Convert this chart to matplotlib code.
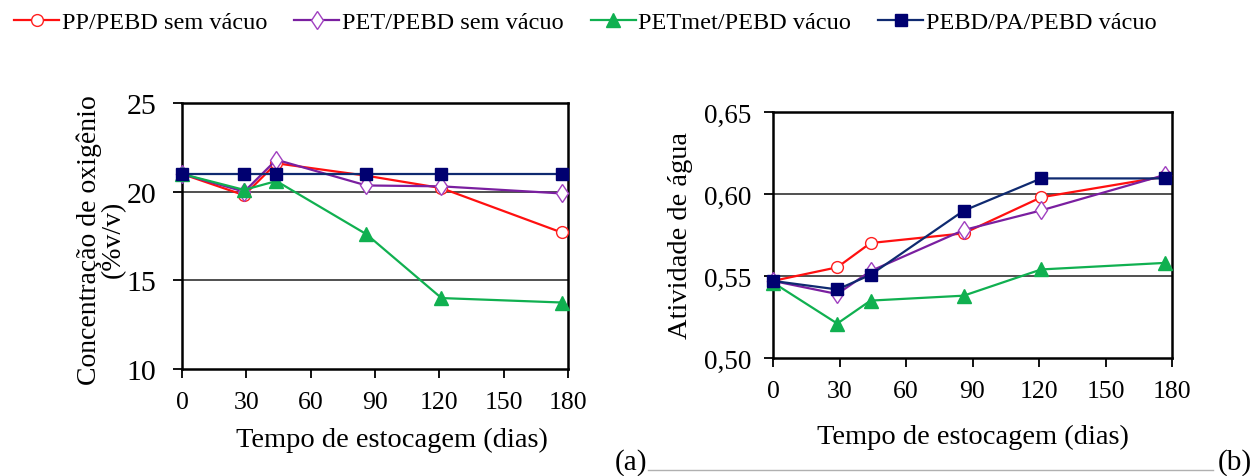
import matplotlib
matplotlib.use("Agg")
import matplotlib.pyplot as plt
from matplotlib.lines import Line2D

plt.rcParams["font.family"] = ["Liberation Serif", "DejaVu Serif"]

# storage time (days)
dias = [0, 29, 44, 86, 121, 177]

series = ["PP/PEBD sem vácuo", "PET/PEBD sem vácuo",
          "PETmet/PEBD vácuo", "PEBD/PA/PEBD vácuo"]

# (a) oxygen concentration (% v/v)
o2_pp = [21.0, 19.8, 21.6, 20.9, 20.2, 17.7]
o2_pet = [21.0, 20.0, 21.8, 20.35, 20.3, 19.9]
o2_petmet = [21.0, 20.1, 20.6, 17.6, 14.0, 13.75]
o2_pa = [21.0, 21.0, 21.0, 21.0, 21.0, 21.0]

# (b) water activity
aw_pp = [0.547, 0.5553, 0.5701, 0.576, 0.598, 0.6107]
aw_pet = [0.547, 0.539, 0.553, 0.578, 0.590, 0.6117]
aw_petmet = [0.546, 0.521, 0.535, 0.538, 0.554, 0.558]
aw_pa = [0.547, 0.5418, 0.5507, 0.5898, 0.6095, 0.6095]

xticks = [0, 30, 60, 90, 120, 150, 180]

styles = [
    dict(color="#ff1010", marker="o", mfc="white", mec="#ff2020", ms=8.5, mew=1.0),
    dict(color="#7a1fa0", marker="d", mfc="white", mec="#a040c0", ms=9.5, mew=1.0),
    dict(color="#10b050", marker="^", mfc="#10b050", mec="#10b050", ms=9.5),
    dict(color="#0f2a70", marker="s", mfc="#000070", mec="#000070", ms=9),
]

W, H = 1258, 477
fig = plt.figure(figsize=(W / 100, H / 100), dpi=100)
ax1 = fig.add_axes([182 / W, 1 - 370 / H, 386 / W, 266 / H])
ax2 = fig.add_axes([773 / W, 1 - 359 / H, 399 / W, 246 / H])


def style_axes(ax, yticks, ylabels, yfs, ypad):
    ax.set_xlim(0, 180)
    ax.set_xticks(xticks)
    ax.set_xticklabels([str(t) for t in xticks], fontsize=18.5)
    ax.set_ylim(yticks[0], yticks[-1])
    ax.set_yticks(yticks)
    ax.set_yticklabels(ylabels, fontsize=yfs)
    for s in ax.spines.values():
        s.set_linewidth(1.8)
        s.set_color("black")
    ax.tick_params(direction="out", length=6.5, width=1.3)
    ax.tick_params(axis="x", pad=9)
    ax.tick_params(axis="y", pad=ypad)
    for y in yticks[1:-1]:
        ax.axhline(y, color="#202020", lw=1.1, zorder=1)


for vals, st in zip([o2_pp, o2_pet, o2_petmet, o2_pa], styles):
    ax1.plot(dias, vals, lw=1.6, clip_on=False, zorder=3, **st)
style_axes(ax1, [10, 15, 20, 25], ["10", "15", "20", "25"], 21.5, 12)
ax1.text(-0.21, 0.49, "Concentração de oxigênio\n(%v/v)", transform=ax1.transAxes,
         rotation=90, ha="center", va="center", fontsize=20, linespacing=0.92)
ax1.text(0.544, -0.263, "Tempo de estocagem (dias)", transform=ax1.transAxes,
         ha="center", va="center", fontsize=20.5)

for vals, st in zip([aw_pp, aw_pet, aw_petmet, aw_pa], styles):
    ax2.plot(dias, vals, lw=1.6, clip_on=False, zorder=3, **st)
style_axes(ax2, [0.50, 0.55, 0.60, 0.65], ["0,50", "0,55", "0,60", "0,65"], 19.5, 9)
ax2.text(-0.233, 0.504, "Atividade de água", transform=ax2.transAxes,
         rotation=90, ha="center", va="center", fontsize=20.5)
ax2.text(0.5, -0.317, "Tempo de estocagem (dias)", transform=ax2.transAxes,
         ha="center", va="center", fontsize=20.5)

# legend
handles = [Line2D([], [], lw=1.6, **st) for st in styles]
fig.legend(handles, series, loc="upper left", bbox_to_anchor=(-0.006, 1.02),
           ncol=4, frameon=False, fontsize=17.5, handlelength=1.85,
           handletextpad=0.12, columnspacing=1.1)

# panel labels
fig.text(631 / W, 1 - 463 / H, "(a)", ha="center", va="center", fontsize=21)
fig.text(1235 / W, 1 - 463 / H, "(b)", ha="center", va="center", fontsize=21)
fig.add_artist(Line2D([648 / W, 1213 / W], [1 - 471 / H, 1 - 471 / H],
                      color="#b0b0b0", lw=1.0))

fig.savefig("out.png", dpi=100)
